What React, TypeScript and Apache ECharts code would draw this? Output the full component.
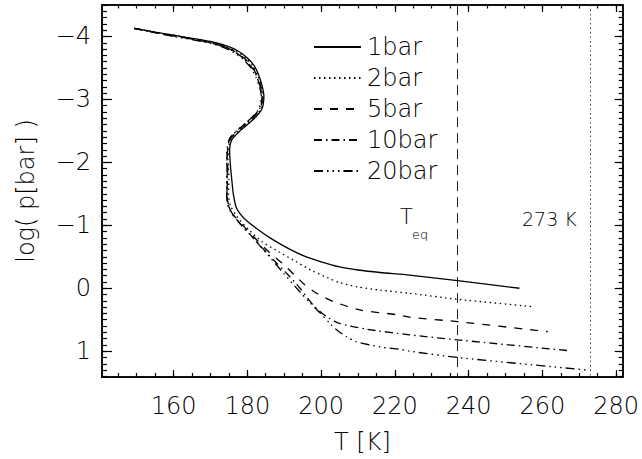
import React, { useEffect, useRef } from "react";
import * as echarts from "echarts";

// ---------- data ----------
const seriesNames = ["1bar", "2bar", "5bar", "10bar", "20bar"];

const bar1: number[][] = [
  [149.3, -4.13], [155, -4.07], [160, -4.02], [165, -3.97], [170, -3.92], [174.4, -3.85],
  [177.5, -3.77], [179.8, -3.67], [181.8, -3.54], [183, -3.4], [184, -3.22], [184.5, -3.05],
  [183.9, -2.84], [181.6, -2.68], [178, -2.5], [175.8, -2.36], [175.2, -2.2], [175.3, -2.05],
  [175.5, -1.9], [175.8, -1.72], [176.2, -1.5], [177.1, -1.27], [179.3, -1.1], [182.5, -0.95],
  [186.7, -0.78], [191.2, -0.63], [195.5, -0.51], [200, -0.42], [205, -0.34], [210, -0.29],
  [216, -0.25], [224, -0.21], [237, -0.12], [253.8, 0.0],
];

const bar2: number[][] = [
  [149.3, -4.13], [155, -4.07], [160, -4.02], [165, -3.97], [170, -3.91], [174.2, -3.84],
  [177.2, -3.76], [179.5, -3.66], [181.5, -3.53], [182.8, -3.39], [183.8, -3.22], [184.3, -3.05],
  [183.7, -2.85], [181.4, -2.69], [177.8, -2.51], [175.6, -2.37], [174.9, -2.2], [174.8, -2.05],
  [174.9, -1.9], [175, -1.72], [174.9, -1.5], [175.4, -1.32], [177.2, -1.14], [180.4, -0.93],
  [184, -0.74], [188.5, -0.58], [193, -0.43], [197.5, -0.28], [202, -0.16], [205, -0.09],
  [210, -0.02], [216, 0.03], [224, 0.08], [237, 0.175], [257, 0.29],
];

const bar5: number[][] = [
  [149.3, -4.13], [155, -4.06], [160, -4.01], [165, -3.96], [170, -3.9], [174, -3.83],
  [177, -3.75], [179.3, -3.65], [181.3, -3.52], [182.6, -3.38], [183.6, -3.21], [184.1, -3.05],
  [183.5, -2.85], [181.2, -2.69], [177.6, -2.51], [175.4, -2.37], [174.7, -2.2], [174.6, -2.05],
  [174.7, -1.9], [174.6, -1.7], [174.5, -1.5], [174.8, -1.35], [175.9, -1.19], [178.6, -1.01],
  [182.2, -0.79], [185.8, -0.58], [189.4, -0.4], [193, -0.2], [195.5, -0.06], [198.8, 0.08],
  [203.3, 0.21], [210.5, 0.345], [220.5, 0.42], [224, 0.46], [237, 0.53], [261.5, 0.69],
];

const bar10: number[][] = [
  [149.3, -4.13], [155, -4.06], [160, -4.01], [165, -3.96], [170, -3.9], [174, -3.83],
  [177, -3.74], [179.2, -3.64], [181.2, -3.51], [182.5, -3.37], [183.5, -3.2], [184, -3.05],
  [183.4, -2.86], [181.1, -2.7], [177.5, -2.52], [175.3, -2.38], [174.6, -2.2], [174.5, -2.05],
  [174.6, -1.9], [174.5, -1.7], [174.5, -1.5], [174.7, -1.35], [175.6, -1.22], [178, -1.03],
  [181, -0.84], [183.1, -0.7], [187.6, -0.42], [190.3, -0.26], [194.3, 0.0], [197.9, 0.27],
  [201.5, 0.45], [205.1, 0.56], [212.3, 0.65], [224, 0.74], [237, 0.82], [266.9, 0.99],
];

const bar20: number[][] = [
  [149.3, -4.13], [155, -4.06], [160, -4.0], [165, -3.95], [170, -3.89], [173.8, -3.82],
  [176.8, -3.73], [179, -3.63], [181, -3.5], [182.3, -3.36], [183.3, -3.2], [183.8, -3.05],
  [183.2, -2.86], [181, -2.7], [177.4, -2.52], [175.2, -2.38], [174.5, -2.2], [174.4, -2.05],
  [174.5, -1.9], [174.4, -1.7], [174.4, -1.5], [174.6, -1.35], [175.4, -1.22], [177.8, -1.04],
  [180.8, -0.85], [183, -0.7], [185.3, -0.55], [189.8, -0.24], [194.3, 0.06], [197, 0.23],
  [199.7, 0.39], [202.4, 0.56], [204.2, 0.66], [206.9, 0.77], [209.6, 0.85], [213.2, 0.9],
  [216.8, 0.94], [221.4, 0.97], [224, 1.0], [237, 1.1], [272.3, 1.3],
];

const seriesData = [bar1, bar2, bar5, bar10, bar20];

const xMajorTicks = [160, 180, 200, 220, 240, 260, 280];
const xMinorTicks: number[] = [];
for (let v = 145; v <= 280; v += 5) xMinorTicks.push(v);
const yMajorTicks = [-4, -3, -2, -1, 0, 1];
const yMinorTicks: number[] = [];
for (let i = -45; i <= 14; i++) yMinorTicks.push(i / 10);

const xRange = [140.6, 281.8];
const yRange = [-4.5, 1.41];
const tEq = 237;
const tFreeze = 273;

const xTitle = "T [K]";
const yTitle = "log( p[bar] )";
const freezeLabel = "273 K";

// ---------- styles ----------
const FONT = '"DejaVu Sans", sans-serif';
const WEIGHT = 200;
const dashTypes: any[] = ["solid", [1.5, 3.5], [8, 8], [8, 4, 1.5, 4], [9, 4, 1.5, 4, 1.5, 4, 1.5, 4]];

function xAxisDef(position: string, ticks: number[], len: number, labels: boolean, extra: any = {}) {
  return {
    type: "value",
    position,
    min: xRange[0],
    max: xRange[1],
    axisLine: { show: true, onZero: false, lineStyle: { color: "#000", width: 1.5 } },
    axisTick: { show: true, inside: true, length: len, customValues: ticks, lineStyle: { color: "#000", width: 1.2 } },
    axisLabel: labels
      ? { show: true, customValues: ticks, margin: 17, fontSize: 24, fontFamily: FONT, fontWeight: WEIGHT, color: "#000" }
      : { show: false },
    splitLine: { show: false },
    ...extra,
  };
}

function yAxisDef(position: string, ticks: number[], len: number, labels: boolean, extra: any = {}) {
  return {
    type: "value",
    position,
    inverse: true,
    min: yRange[0],
    max: yRange[1],
    axisLine: { show: true, onZero: false, lineStyle: { color: "#000", width: 1.5 } },
    axisTick: { show: true, inside: true, length: len, customValues: ticks, lineStyle: { color: "#000", width: 1.2 } },
    axisLabel: labels
      ? {
          show: true,
          customValues: ticks,
          margin: 11,
          fontSize: 24,
          fontFamily: FONT,
          fontWeight: WEIGHT,
          color: "#000",
          formatter: (v: number) => String(v).replace("-", "\u2212"),
        }
      : { show: false },
    splitLine: { show: false },
    ...extra,
  };
}

export default function App() {
  const ref = useRef<HTMLDivElement>(null);

  useEffect(() => {
    if (!ref.current) return;
    const chart = echarts.init(ref.current, undefined, { renderer: "svg" });

    const series: any[] = seriesNames.map((name, i) => ({
      name,
      type: "line",
      data: seriesData[i],
      xAxisIndex: 0,
      yAxisIndex: 0,
      symbol: "none",
      smooth: 0.25,
      lineStyle: { color: "#000", width: 1.3, type: dashTypes[i] },
      itemStyle: { color: "#000" },
      ...(i === 0
        ? {
            markLine: {
              silent: true,
              symbol: "none",
              label: { show: false },
              data: [
                { xAxis: tEq, lineStyle: { color: "#222", width: 1, type: [10, 6] } },
                { xAxis: tFreeze, lineStyle: { color: "#444", width: 1, type: [1.5, 3] } },
              ],
            },
          }
        : {}),
    }));

    chart.setOption({
      animation: false,
      backgroundColor: "#fff",
      grid: { left: 102, top: 5, right: 19, bottom: 82, containLabel: false },
      legend: {
        show: true,
        orient: "vertical",
        left: 308,
        top: 30,
        itemWidth: 47,
        itemHeight: 24,
        itemGap: 7,
        data: seriesNames,
        itemStyle: { opacity: 0 },
        textStyle: { fontSize: 24, fontFamily: FONT, fontWeight: WEIGHT, color: "#000", lineHeight: 24, padding: [0, 0, 0, 1] },
      },
      xAxis: [
        xAxisDef("bottom", xMajorTicks, 7, true, {
          name: xTitle,
          nameLocation: "middle",
          nameGap: 53,
          nameTextStyle: { fontSize: 24, fontFamily: FONT, fontWeight: WEIGHT, color: "#000" },
        }),
        xAxisDef("bottom", xMinorTicks, 4, false),
        xAxisDef("top", xMajorTicks, 7, false),
        xAxisDef("top", xMinorTicks, 3.5, false),
      ],
      yAxis: [
        yAxisDef("left", yMajorTicks, 10, true, {
          name: yTitle,
          nameLocation: "middle",
          nameGap: 64,
          nameTextStyle: { fontSize: 24, fontFamily: FONT, fontWeight: WEIGHT, color: "#000" },
        }),
        yAxisDef("left", yMinorTicks, 5, false),
        yAxisDef("right", yMajorTicks, 8, false),
        yAxisDef("right", yMinorTicks, 4, false),
      ],
      graphic: [
        {
          type: "text",
          left: 400,
          top: 206,
          style: { text: "T", font: `${WEIGHT} 21px ${FONT}`, fill: "#000" },
        },
        {
          type: "text",
          left: 412,
          top: 228,
          style: { text: "eq", font: `${WEIGHT} 13px ${FONT}`, fill: "#000" },
        },
        {
          type: "text",
          left: 522,
          top: 209,
          style: { text: freezeLabel, font: `${WEIGHT} 19px ${FONT}`, fill: "#000" },
        },
      ],
      series,
    });

    return () => chart.dispose();
  }, []);

  return (
    <div
      ref={ref}
      style={{ position: "absolute", left: 0, top: 0, width: 642, height: 459, background: "#fff" }}
    />
  );
}
